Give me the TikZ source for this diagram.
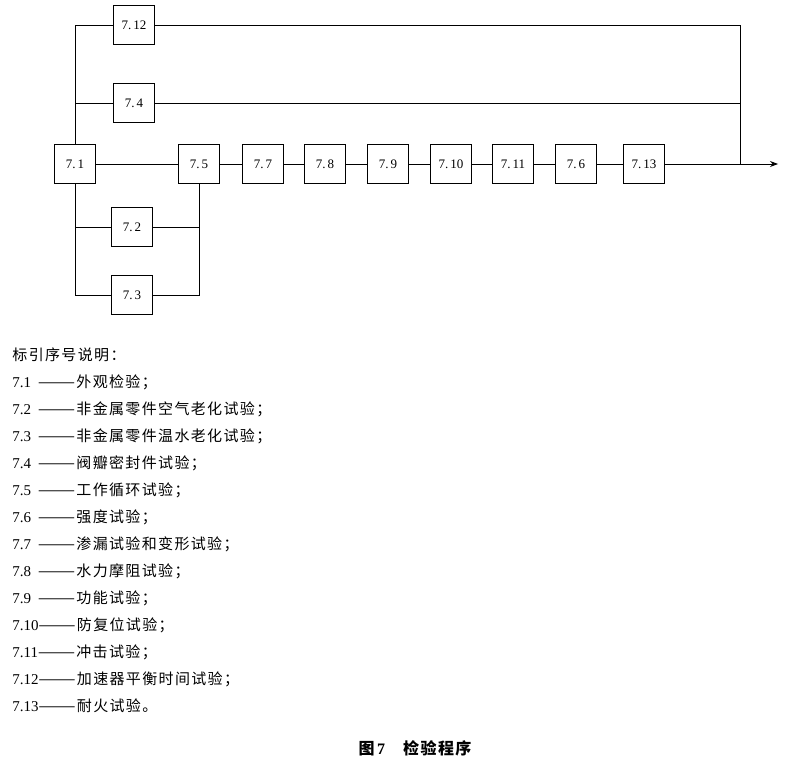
\documentclass[tikz,border=0pt]{standalone}
\usepackage{fontspec}
\setmainfont{Liberation Serif}
\newfontfamily\cjk{Noto Sans CJK SC}[LetterSpace=9]
\usetikzlibrary{arrows.meta}

\tikzset{
    testbox/.style={draw, line width=1.6pt, minimum width=41pt, minimum height=39pt, inner sep=0pt, font=\fontsize{13}{13}\selectfont},
    note/.style={anchor=west, inner sep=0pt, font=\fontsize{15}{15}\selectfont}
}

\begin{document}
\begin{tikzpicture}[x={(1pt,0)}, y={(0,-1pt)}, line width=0.9pt]
    \useasboundingbox (0,0) rectangle (791,770);

    \node[testbox] at (75, 164) (s71) {7.\,1};
    \node[testbox] at (134, 25) (s712) {7.\,12};
    \node[testbox] at (134, 103) (s74) {7.\,4};
    \node[testbox] at (132, 227) (s72) {7.\,2};
    \node[testbox] at (132, 295) (s73) {7.\,3};
    \node[testbox] at (199, 164) (s75) {7.\,5};
    \node[testbox] at (263, 164) (s77) {7.\,7};
    \node[testbox] at (325, 164) (s78) {7.\,8};
    \node[testbox] at (388, 164) (s79) {7.\,9};
    \node[testbox] at (451, 164) (s710) {7.\,10};
    \node[testbox] at (513, 164) (s711) {7.\,11};
    \node[testbox] at (576, 164) (s76) {7.\,6};
    \node[testbox] at (644, 164) (s713) {7.\,13};

    \coordinate (join) at (740, 164);
    \coordinate (out) at (778, 164);

    \draw (s71.north) |- (s712.west);
    \draw (s71.north) |- (s74.west);
    \draw (s71.south) |- (s72.west);
    \draw (s71.south) |- (s73.west);
    \draw (s71) -- (s75);
    \draw (s72.east) -| (s75.south);
    \draw (s73.east) -| (s75.south);
    \draw (s75) -- (s77);
    \draw (s77) -- (s78);
    \draw (s78) -- (s79);
    \draw (s79) -- (s710);
    \draw (s710) -- (s711);
    \draw (s711) -- (s76);
    \draw (s76) -- (s713);
    \draw[-{Stealth[length=8pt]}] (s713) -- (out);
    \draw (s712.east) -| (join);
    \draw (s74.east) -| (join);

    % legend
    \node[note] at (12, 355) (head) {\cjk 标引序号说明：};
    \node[note] at (12, 382) (n71) {7.1\hspace{7pt}{\cjk ———外观检验；}};
    \node[note] at (12, 409) (n72) {7.2\hspace{7pt}{\cjk ———非金属零件空气老化试验；}};
    \node[note] at (12, 436) (n73) {7.3\hspace{7pt}{\cjk ———非金属零件温水老化试验；}};
    \node[note] at (12, 463) (n74) {7.4\hspace{7pt}{\cjk ———阀瓣密封件试验；}};
    \node[note] at (12, 490) (n75) {7.5\hspace{7pt}{\cjk ———工作循环试验；}};
    \node[note] at (12, 517) (n76) {7.6\hspace{7pt}{\cjk ———强度试验；}};
    \node[note] at (12, 544) (n77) {7.7\hspace{7pt}{\cjk ———渗漏试验和变形试验；}};
    \node[note] at (12, 571) (n78) {7.8\hspace{7pt}{\cjk ———水力摩阻试验；}};
    \node[note] at (12, 598) (n79) {7.9\hspace{7pt}{\cjk ———功能试验；}};
    \node[note] at (12, 625) (n710) {7.10{\cjk ———防复位试验；}};
    \node[note] at (12, 652) (n711) {7.11{\cjk ———冲击试验；}};
    \node[note] at (12, 679) (n712) {7.12{\cjk ———加速器平衡时间试验；}};
    \node[note] at (12, 706) (n713) {7.13{\cjk ———耐火试验。}};

    \node[font=\fontsize{16}{16}\selectfont\bfseries] at (415, 748) (caption) {{\cjk 图}\,7\hspace{18pt}{\cjk 检验程序}};
\end{tikzpicture}
\end{document}
